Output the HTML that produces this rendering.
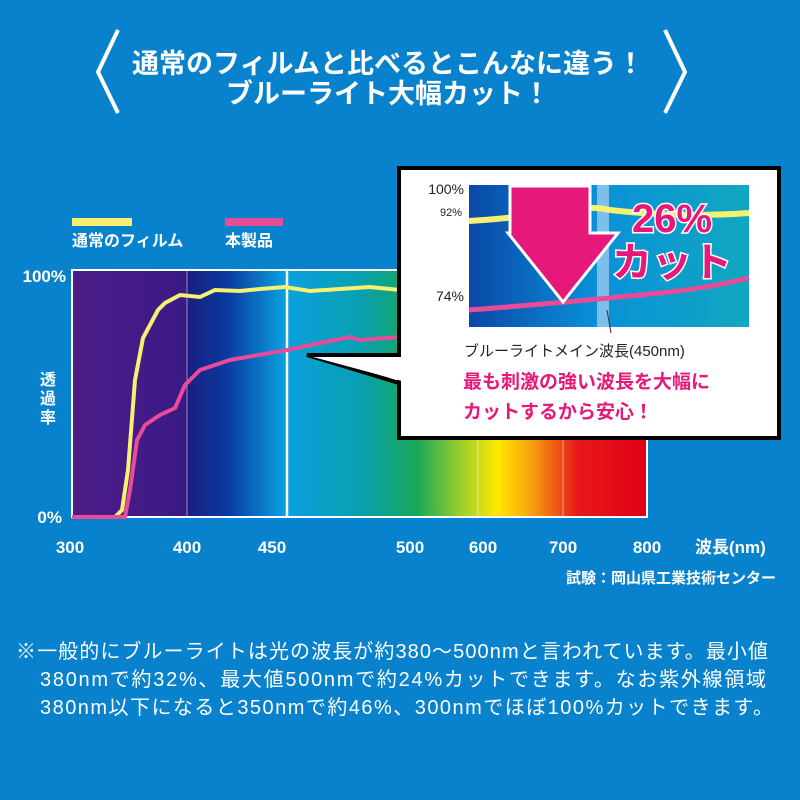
<!DOCTYPE html>
<html><head><meta charset="utf-8"><style>
body{margin:0;width:800px;height:800px;background:#0882cc;overflow:hidden;font-family:"Liberation Sans","Noto Sans CJK JP",sans-serif;}
</style></head><body>
<svg width="800" height="800" xmlns="http://www.w3.org/2000/svg" style="position:absolute;left:0;top:0">
<defs>
<linearGradient id="sp" x1="72" x2="647" y1="0" y2="0" gradientUnits="userSpaceOnUse">
<stop offset="0" stop-color="#4c1c88"/><stop offset="0.2" stop-color="#3a1a86"/>
<stop offset="0.2" stop-color="#1a1e80"/><stop offset="0.27" stop-color="#0a3aa0"/>
<stop offset="0.37" stop-color="#0aa0e0"/><stop offset="0.5" stop-color="#08a0b0"/>
<stop offset="0.6" stop-color="#18a858"/><stop offset="0.67" stop-color="#90cc30"/>
<stop offset="0.74" stop-color="#ffe800"/><stop offset="0.8" stop-color="#f8a010"/>
<stop offset="0.88" stop-color="#e81818"/><stop offset="1" stop-color="#e00018"/>
</linearGradient>
<linearGradient id="ins" x1="469" x2="749" y1="0" y2="0" gradientUnits="userSpaceOnUse">
<stop offset="0" stop-color="#0a48a8"/><stop offset="0.45" stop-color="#0a90d8"/><stop offset="1" stop-color="#10a8c0"/>
</linearGradient>
</defs>
<text x="388" y="73" fill="#fff" font-size="27" font-weight="bold" text-anchor="middle">通常のフィルムと比べるとこんなに違う！</text>
<text x="388" y="103" fill="#fff" font-size="27" font-weight="bold" text-anchor="middle">ブルーライト大幅カット！</text>
<polyline points="118,30 98,72 118,113" fill="none" stroke="#fff" stroke-width="4"/>
<polyline points="665,30 685,72 665,113" fill="none" stroke="#fff" stroke-width="4"/>
<rect x="72" y="218" width="60" height="8" fill="#f8f070"/>
<rect x="225" y="218" width="58" height="8" fill="#e84c98"/>
<text x="72" y="246" fill="#fff" font-size="16" font-weight="bold">通常のフィルム</text>
<text x="225" y="246" fill="#fff" font-size="16" font-weight="bold">本製品</text>
<rect x="72" y="270" width="575" height="247" fill="url(#sp)" stroke="#fff" stroke-width="2"/>
<g stroke="#fff" stroke-width="1" opacity="0.5"><line x1="187" y1="270" x2="187" y2="517"/><line x1="478" y1="270" x2="478" y2="517"/><line x1="563" y1="270" x2="563" y2="517"/></g>
<line x1="287" y1="270" x2="287" y2="517" stroke="#fff" stroke-width="2.5"/>
<polyline fill="none" stroke="#f8f070" stroke-width="4" points="72,517 115,517 122,510 128,470 135,380 143,338 150,325 158,310 165,303 180,295 200,297 215,290 240,291 260,289 285,287 310,291 340,289 370,287 400,290"/>
<polyline fill="none" stroke="#e84c98" stroke-width="4" points="72,517 125,517 130,490 137,440 145,425 160,415 175,408 185,385 200,370 230,360 287,350 320,343 350,337 360,340 400,337"/>
<g fill="#fff" font-size="17" font-weight="bold">
<text x="66" y="282" text-anchor="end">100%</text>
<text x="62" y="523" text-anchor="end">0%</text>
<text x="70" y="553" text-anchor="middle">300</text>
<text x="187" y="553" text-anchor="middle">400</text>
<text x="272" y="553" text-anchor="middle">450</text>
<text x="410" y="553" text-anchor="middle">500</text>
<text x="483" y="553" text-anchor="middle">600</text>
<text x="563" y="553" text-anchor="middle">700</text>
<text x="647" y="553" text-anchor="middle">800</text>
<text x="695" y="553">波長(nm)</text>
<text x="776" y="583" text-anchor="end" font-size="15">試験：岡山県工業技術センター</text>
</g>
<g fill="#fff" font-size="16" font-weight="bold" text-anchor="middle"><text x="48" y="385">透</text><text x="48" y="404">過</text><text x="48" y="423">率</text></g>
<polygon points="399,355 307,355 399,383" fill="#fff" stroke="#000" stroke-width="4" stroke-linejoin="miter"/>
<rect x="399" y="168" width="380" height="270" fill="#fff" stroke="#000" stroke-width="4"/>
<polygon points="402,357 313,357 402,381" fill="#fff"/>
<rect x="469" y="185" width="280" height="142" fill="url(#ins)"/>
<rect x="597" y="185" width="12" height="142" fill="#7cc0ea"/>
<path d="M469,221 Q520,218 545,212 Q590,205 610,210 Q680,218 749,213" fill="none" stroke="#f8f070" stroke-width="6"/>
<path d="M469,310 Q560,303 640,295 Q700,290 749,278" fill="none" stroke="#e84c98" stroke-width="5"/>
<line x1="607" y1="310" x2="611" y2="333" stroke="#333" stroke-width="1"/>
<polygon points="510,186 590,186 590,233 618,233 563,302 508,233 510,233" fill="#e6197a" stroke="#fff" stroke-width="3"/>
<g fill="#e6197a" stroke="#fff" stroke-width="3" paint-order="stroke" font-size="40" font-weight="bold" text-anchor="middle"><text x="672" y="232">26%</text><text x="672" y="276">カット</text></g>
<g fill="#222" font-size="14" text-anchor="end"><text x="464" y="194">100%</text><text x="462" y="216" font-size="11">92%</text><text x="464" y="301">74%</text></g>
<text x="464" y="356" fill="#222" font-size="15">ブルーライトメイン波長(450nm)</text>
<g fill="#e6197a" font-size="19" font-weight="bold"><text x="463" y="388">最も刺激の強い波長を大幅に</text><text x="463" y="418">カットするから安心！</text></g>
<g fill="#fff" font-size="20"><text x="16" y="658" textLength="752" lengthAdjust="spacing">※一般的にブルーライトは光の波長が約380～500nmと言われています。最小値</text><text x="40" y="686" textLength="726" lengthAdjust="spacing">380nmで約32%、最大値500nmで約24%カットできます。なお紫外線領域</text><text x="40" y="714" textLength="733" lengthAdjust="spacing">380nm以下になると350nmで約46%、300nmでほぼ100%カットできます。</text></g>
</svg>
</body></html>
